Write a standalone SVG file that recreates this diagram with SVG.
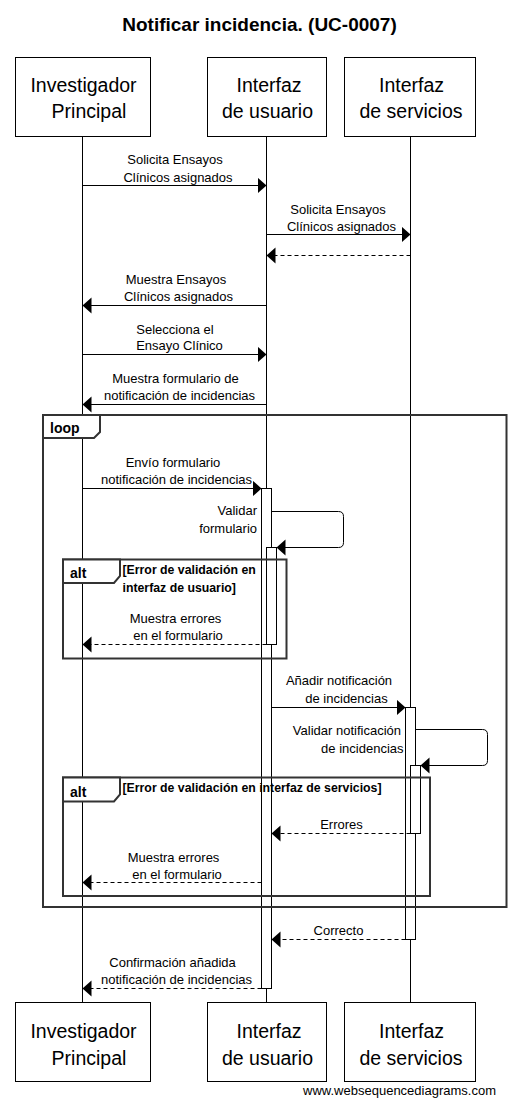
<svg xmlns="http://www.w3.org/2000/svg" width="518" height="1106" viewBox="0 0 518 1106">
<style>
text{font-family:"Liberation Sans",Arial,sans-serif;fill:#000}
.title{font-size:19px;font-weight:bold}
.pt{font-size:19.5px}
.msg{font-size:13px}
.flab{font-size:14px;font-weight:bold}
.cond{font-size:12.3px;font-weight:bold}
.box{fill:#fff;stroke:#000;stroke-width:1}
.life{stroke:#000;stroke-width:1;fill:none}
.act{fill:#fff;stroke:#000;stroke-width:1}
.sync{stroke:#000;stroke-width:1;fill:none;marker-end:url(#ah)}
.ret{stroke:#000;stroke-width:1;fill:none;stroke-dasharray:4,3;marker-end:url(#ah)}
.frame{fill:none;stroke:#333;stroke-width:2}
.tab{fill:#fff;stroke:#333;stroke-width:2}
</style>
<defs>
<marker id="ah" markerUnits="userSpaceOnUse" markerWidth="10" markerHeight="17" refX="9" refY="8" orient="auto" viewBox="0 0 10 17">
<path d="M0,0 L9,8 L0,16 Z" fill="#000"/>
</marker>
</defs>
<rect width="518" height="1106" fill="#fff"/>
<text class="title" x="259.5" y="31" text-anchor="middle">Notificar incidencia. (UC-0007)</text>

<g id="lifelines">
<line class="life" x1="82.5" y1="136" x2="82.5" y2="1002"/>
<line class="life" x1="266.5" y1="136" x2="266.5" y2="1002"/>
<line class="life" x1="410.5" y1="136" x2="410.5" y2="1002"/>
</g>

<g id="activations">
<rect class="act" x="261.5" y="488.5" width="10" height="500"/>
<rect class="act" x="266.5" y="547.5" width="10" height="97"/>
<rect class="act" x="405.5" y="707.5" width="10" height="232"/>
<rect class="act" x="410.5" y="765.5" width="10" height="68"/>
</g>

<g id="frames">
<g id="loop1">
<rect class="frame" x="43" y="415" width="463.5" height="492"/>
<path class="tab" d="M43,415 H100 V432 L94,438 H43 Z"/>
<text class="flab" x="50" y="433">loop</text>
</g>
<g id="alt1">
<rect class="frame" x="63" y="559.5" width="223.5" height="99"/>
<path class="tab" d="M63,559.5 H120 V576 L114,583 H63 Z"/>
<text class="flab" x="70" y="578">alt</text>
<text class="cond" x="122.5" y="573.5">[Error de validación en</text>
<text class="cond" x="122.5" y="591.5">interfaz de usuario]</text>
</g>
<g id="alt2">
<rect class="frame" x="63" y="777.5" width="367" height="118.5"/>
<path class="tab" d="M63,777.5 H120 V794.5 L114,801.5 H63 Z"/>
<text class="flab" x="70" y="796.5">alt</text>
<text class="cond" x="122.5" y="791.5">[Error de validación en interfaz de servicios]</text>
</g>
</g>

<g id="connectors">
<line class="sync" x1="82.5" y1="185.5" x2="266.5" y2="185.5"/>
<line class="sync" x1="266.5" y1="234.5" x2="410.5" y2="234.5"/>
<line class="ret" x1="410.5" y1="255.5" x2="266.5" y2="255.5"/>
<line class="sync" x1="266.5" y1="305.5" x2="82.5" y2="305.5"/>
<line class="sync" x1="82.5" y1="354.5" x2="266.5" y2="354.5"/>
<line class="sync" x1="266.5" y1="404.5" x2="82.5" y2="404.5"/>
<line class="sync" x1="82.5" y1="488.5" x2="261.5" y2="488.5"/>
<path class="sync" d="M271.5,511.5 H338.5 Q343.5,511.5 343.5,516.5 V542.5 Q343.5,547.5 338.5,547.5 H276.5"/>
<line class="ret" x1="266.5" y1="644.5" x2="82.5" y2="644.5"/>
<line class="sync" x1="271.5" y1="707.5" x2="405.5" y2="707.5"/>
<path class="sync" d="M415.5,729.5 H482.5 Q487.5,729.5 487.5,734.5 V760.5 Q487.5,765.5 482.5,765.5 H420.5"/>
<line class="ret" x1="410.5" y1="833.5" x2="271.5" y2="833.5"/>
<line class="ret" x1="261.5" y1="882.5" x2="82.5" y2="882.5"/>
<line class="ret" x1="405.5" y1="939.5" x2="271.5" y2="939.5"/>
<line class="ret" x1="261.5" y1="988.5" x2="82.5" y2="988.5"/>
</g>

<g id="labels" class="msg">
<text class="msg" x="175" y="164" text-anchor="middle">Solicita Ensayos</text>
<text class="msg" x="178" y="182" text-anchor="middle">Clínicos asignados</text>
<text class="msg" x="338" y="214" text-anchor="middle">Solicita Ensayos</text>
<text class="msg" x="341.5" y="231" text-anchor="middle">Clínicos asignados</text>
<text class="msg" x="176" y="284" text-anchor="middle">Muestra Ensayos</text>
<text class="msg" x="178.5" y="301" text-anchor="middle">Clínicos asignados</text>
<text class="msg" x="175" y="334" text-anchor="middle">Selecciona el</text>
<text class="msg" x="179.5" y="350" text-anchor="middle">Ensayo Clínico</text>
<text class="msg" x="175.5" y="383" text-anchor="middle">Muestra formulario de</text>
<text class="msg" x="179.5" y="399.5" text-anchor="middle">notificación de incidencias</text>
<text class="msg" x="173" y="467" text-anchor="middle">Envío formulario</text>
<text class="msg" x="176.5" y="484" text-anchor="middle">notificación de incidencias</text>
<text class="msg" x="257" y="515" text-anchor="end">Validar</text>
<text class="msg" x="257" y="533" text-anchor="end">formulario</text>
<text class="msg" x="175.5" y="622.5" text-anchor="middle">Muestra errores</text>
<text class="msg" x="178" y="640" text-anchor="middle">en el formulario</text>
<text class="msg" x="339" y="685" text-anchor="middle">Añadir notificación</text>
<text class="msg" x="346.5" y="702.5" text-anchor="middle">de incidencias</text>
<text class="msg" x="401" y="735" text-anchor="end">Validar notificación</text>
<text class="msg" x="403.5" y="752.5" text-anchor="end">de incidencias</text>
<text class="msg" x="341.5" y="828.5" text-anchor="middle">Errores</text>
<text class="msg" x="173.5" y="861.5" text-anchor="middle">Muestra errores</text>
<text class="msg" x="177" y="878.5" text-anchor="middle">en el formulario</text>
<text class="msg" x="338.5" y="935" text-anchor="middle">Correcto</text>
<text class="msg" x="172.5" y="966.5" text-anchor="middle">Confirmación añadida</text>
<text class="msg" x="176.5" y="983.5" text-anchor="middle">notificación de incidencias</text>
</g>

<g id="p_investigador">
<rect class="box" x="15.5" y="57.5" width="135" height="79"/>
<text class="pt" x="83.5" y="92" text-anchor="middle">Investigador</text>
<text class="pt" x="89" y="118" text-anchor="middle">Principal</text>
<rect class="box" x="15.5" y="1002.5" width="135" height="79"/>
<text class="pt" x="83.5" y="1038" text-anchor="middle">Investigador</text>
<text class="pt" x="89" y="1065" text-anchor="middle">Principal</text>
</g>
<g id="p_interfaz_usuario">
<rect class="box" x="207.5" y="57.5" width="119" height="79"/>
<text class="pt" x="269" y="92" text-anchor="middle">Interfaz</text>
<text class="pt" x="267.5" y="118" text-anchor="middle">de usuario</text>
<rect class="box" x="207.5" y="1002.5" width="119" height="79"/>
<text class="pt" x="269" y="1038" text-anchor="middle">Interfaz</text>
<text class="pt" x="267.5" y="1065" text-anchor="middle">de usuario</text>
</g>
<g id="p_interfaz_servicios">
<rect class="box" x="344.5" y="57.5" width="131" height="79"/>
<text class="pt" x="411.5" y="92" text-anchor="middle">Interfaz</text>
<text class="pt" x="411" y="118" text-anchor="middle">de servicios</text>
<rect class="box" x="344.5" y="1002.5" width="131" height="79"/>
<text class="pt" x="411.5" y="1038" text-anchor="middle">Interfaz</text>
<text class="pt" x="411" y="1065" text-anchor="middle">de servicios</text>
</g>

<text class="msg" x="496" y="1095" text-anchor="end">www.websequencediagrams.com</text>
</svg>
